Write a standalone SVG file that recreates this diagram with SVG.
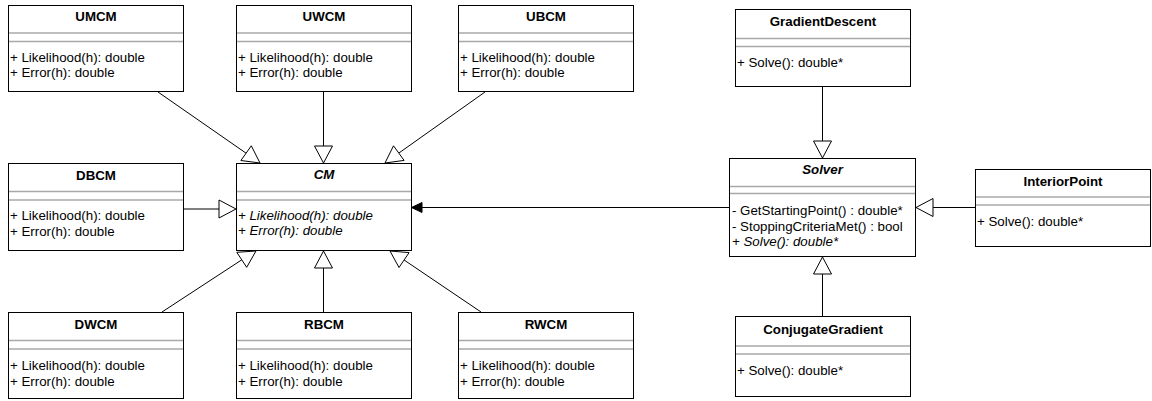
<svg xmlns="http://www.w3.org/2000/svg" width="1152" height="401" viewBox="0 0 1152 401">
<style>
.box{fill:#fff;stroke:#000;stroke-width:1}
.sep{stroke:#a8a8a8;stroke-width:1.6}
.t{font-family:"Liberation Sans",Arial,Helvetica,sans-serif;font-size:13.3px;fill:#000}
.title{font-weight:bold;text-anchor:middle}
.it{font-style:italic}
.edge{stroke:#000;stroke-width:1;fill:none}
.tri{fill:#fff;stroke:#000;stroke-width:1}
</style>
<rect width="1152" height="401" fill="#fff"/>
<g id="connectors">
  <!-- UMCM -> CM -->
  <line class="edge" x1="158" y1="92" x2="246.1" y2="153.2"/>
  <polygon class="tri" points="260,163 240.9,160.5 251.3,145.8"/>
  <!-- UWCM -> CM -->
  <line class="edge" x1="323.5" y1="92" x2="323.5" y2="146"/>
  <polygon class="tri" points="323.5,163 314.5,146 332.5,146"/>
  <!-- UBCM -> CM -->
  <line class="edge" x1="485" y1="92" x2="398.8" y2="153.1"/>
  <polygon class="tri" points="385,163 404.1,160.4 393.5,145.8"/>
  <!-- DBCM -> CM -->
  <line class="edge" x1="183" y1="209" x2="219" y2="209"/>
  <polygon class="tri" points="236,209 219,200 219,218"/>
  <!-- DWCM -> CM -->
  <line class="edge" x1="162" y1="312" x2="241.8" y2="259.8"/>
  <polygon class="tri" points="256,251 246.7,267.3 236.8,252.3"/>
  <!-- RBCM -> CM -->
  <line class="edge" x1="323.5" y1="312" x2="323.5" y2="268"/>
  <polygon class="tri" points="323.5,251 314.5,268 332.5,268"/>
  <!-- RWCM -> CM -->
  <line class="edge" x1="481" y1="312" x2="404.1" y2="260"/>
  <polygon class="tri" points="390,251 409.1,252.6 399,267.5"/>
  <!-- Solver -> CM -->
  <line class="edge" x1="729" y1="207.5" x2="420" y2="207.5"/>
  <polygon points="411.5,207.5 422,202.5 422,212.5" fill="#000" stroke="#000" stroke-width="1"/>
  <!-- GradientDescent -> Solver -->
  <line class="edge" x1="822.5" y1="87" x2="822.5" y2="141"/>
  <polygon class="tri" points="822.5,158 813.5,141 831.5,141"/>
  <!-- ConjugateGradient -> Solver -->
  <line class="edge" x1="822.5" y1="316" x2="822.5" y2="274"/>
  <polygon class="tri" points="822.5,257 813.5,274 831.5,274"/>
  <!-- InteriorPoint -> Solver -->
  <line class="edge" x1="975" y1="207.5" x2="933" y2="207.5"/>
  <polygon class="tri" points="916,207.5 933,198.5 933,216.5"/>
</g>

<g id="UMCM">
  <rect class="box" x="8.5" y="5.5" width="175" height="86"/>
  <line class="sep" x1="9" y1="33" x2="183" y2="33"/>
  <line class="sep" x1="9" y1="41.5" x2="183" y2="41.5"/>
  <text class="t title" x="96" y="21">UMCM</text>
  <text class="t" x="10" y="61.5">+ Likelihood(h): double</text>
  <text class="t" x="10" y="77">+ Error(h): double</text>
</g>
<g id="UWCM">
  <rect class="box" x="236.5" y="5.5" width="175" height="86"/>
  <line class="sep" x1="237" y1="33" x2="411" y2="33"/>
  <line class="sep" x1="237" y1="41.5" x2="411" y2="41.5"/>
  <text class="t title" x="324" y="21">UWCM</text>
  <text class="t" x="238" y="61.5">+ Likelihood(h): double</text>
  <text class="t" x="238" y="77">+ Error(h): double</text>
</g>
<g id="UBCM">
  <rect class="box" x="458.5" y="5.5" width="175" height="86"/>
  <line class="sep" x1="459" y1="33" x2="633" y2="33"/>
  <line class="sep" x1="459" y1="41.5" x2="633" y2="41.5"/>
  <text class="t title" x="546" y="21">UBCM</text>
  <text class="t" x="460" y="61.5">+ Likelihood(h): double</text>
  <text class="t" x="460" y="77">+ Error(h): double</text>
</g>
<g id="DBCM">
  <rect class="box" x="8.5" y="163.5" width="175" height="87"/>
  <line class="sep" x1="9" y1="191.5" x2="183" y2="191.5"/>
  <line class="sep" x1="9" y1="200" x2="183" y2="200"/>
  <text class="t title" x="96" y="179.5">DBCM</text>
  <text class="t" x="10" y="219.5">+ Likelihood(h): double</text>
  <text class="t" x="10" y="235.5">+ Error(h): double</text>
</g>
<g id="CM">
  <rect class="box" x="236.5" y="163.5" width="175" height="87"/>
  <line class="sep" x1="237" y1="191.5" x2="411" y2="191.5"/>
  <line class="sep" x1="237" y1="200" x2="411" y2="200"/>
  <text class="t title it" x="324" y="179">CM</text>
  <text class="t it" x="238" y="219.5">+ Likelihood(h): double</text>
  <text class="t it" x="238" y="235">+ Error(h): double</text>
</g>
<g id="DWCM">
  <rect class="box" x="8.5" y="312.5" width="175" height="86"/>
  <line class="sep" x1="9" y1="340.5" x2="183" y2="340.5"/>
  <line class="sep" x1="9" y1="349" x2="183" y2="349"/>
  <text class="t title" x="96" y="328.5">DWCM</text>
  <text class="t" x="10" y="369.5">+ Likelihood(h): double</text>
  <text class="t" x="10" y="385.5">+ Error(h): double</text>
</g>
<g id="RBCM">
  <rect class="box" x="236.5" y="312.5" width="175" height="86"/>
  <line class="sep" x1="237" y1="340.5" x2="411" y2="340.5"/>
  <line class="sep" x1="237" y1="349" x2="411" y2="349"/>
  <text class="t title" x="324" y="328.5">RBCM</text>
  <text class="t" x="238" y="369.5">+ Likelihood(h): double</text>
  <text class="t" x="238" y="385.5">+ Error(h): double</text>
</g>
<g id="RWCM">
  <rect class="box" x="458.5" y="312.5" width="175" height="86"/>
  <line class="sep" x1="459" y1="340.5" x2="633" y2="340.5"/>
  <line class="sep" x1="459" y1="349" x2="633" y2="349"/>
  <text class="t title" x="546" y="328.5">RWCM</text>
  <text class="t" x="460" y="369.5">+ Likelihood(h): double</text>
  <text class="t" x="460" y="385.5">+ Error(h): double</text>
</g>
<g id="GradientDescent">
  <rect class="box" x="735.5" y="9.5" width="175" height="77"/>
  <line class="sep" x1="736" y1="38.5" x2="910" y2="38.5"/>
  <line class="sep" x1="736" y1="46.5" x2="910" y2="46.5"/>
  <text class="t title" x="823" y="26">GradientDescent</text>
  <text class="t" x="737" y="67">+ Solve(): double*</text>
</g>
<g id="Solver">
  <rect class="box" x="729.5" y="158.5" width="186" height="98"/>
  <line class="sep" x1="730" y1="186.5" x2="915" y2="186.5"/>
  <line class="sep" x1="730" y1="193.5" x2="915" y2="193.5"/>
  <text class="t title it" x="822.5" y="174">Solver</text>
  <text class="t" x="732" y="214.5">- GetStartingPoint() : double*</text>
  <text class="t" x="732" y="230.5">- StoppingCriteriaMet() : bool</text>
  <text class="t it" x="732" y="246">+ Solve(): double*</text>
</g>
<g id="InteriorPoint">
  <rect class="box" x="975.5" y="169.5" width="175" height="77"/>
  <line class="sep" x1="976" y1="197" x2="1150" y2="197"/>
  <line class="sep" x1="976" y1="205" x2="1150" y2="205"/>
  <text class="t title" x="1063" y="185.5">InteriorPoint</text>
  <text class="t" x="977" y="225.5">+ Solve(): double*</text>
</g>
<g id="ConjugateGradient">
  <rect class="box" x="735.5" y="316.5" width="175" height="80"/>
  <line class="sep" x1="736" y1="346" x2="910" y2="346"/>
  <line class="sep" x1="736" y1="354" x2="910" y2="354"/>
  <text class="t title" x="823" y="333.5">ConjugateGradient</text>
  <text class="t" x="737" y="374.5">+ Solve(): double*</text>
</g>
</svg>
